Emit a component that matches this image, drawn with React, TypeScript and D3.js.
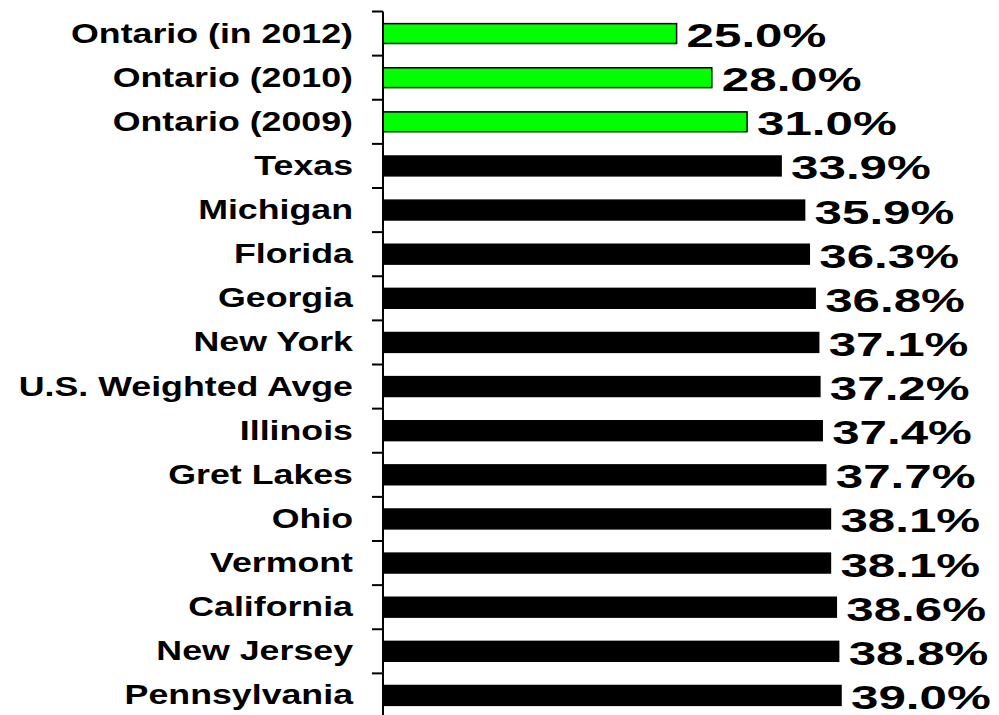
import React, { useRef, useEffect } from "react";
import * as d3 from "d3";

const categories = [
  "Ontario (in 2012)",
  "Ontario (2010)",
  "Ontario (2009)",
  "Texas",
  "Michigan",
  "Florida",
  "Georgia",
  "New York",
  "U.S. Weighted Avge",
  "Illinois",
  "Gret Lakes",
  "Ohio",
  "Vermont",
  "California",
  "New Jersey",
  "Pennsylvania",
];

const values = [25.0, 28.0, 31.0, 33.9, 35.9, 36.3, 36.8, 37.1, 37.2, 37.4, 37.7, 38.1, 38.1, 38.6, 38.8, 39.0];

const ontarioRows = ["Ontario (in 2012)", "Ontario (2010)", "Ontario (2009)"];

const App: React.FC = () => {
  const chartRef = useRef<SVGSVGElement | null>(null);

  useEffect(() => {
    if (!chartRef.current) return;
    const svg = d3.select(chartRef.current);
    svg.selectAll("*").remove();

    const width = 999;
    const height = 715;
    const axisX = 383;

    svg.attr("width", width).attr("height", height);

    const x = d3.scaleLinear().domain([0, 39]).range([axisX, 841]);

    const y = d3
      .scaleBand<string>()
      .domain(categories)
      .range([11.5, 717.5])
      .paddingInner(0.55)
      .paddingOuter(0.275);

    const data = categories.map((c, i) => ({ category: c, value: values[i] }));

    // bars
    svg
      .append("g")
      .selectAll("rect")
      .data(data)
      .enter()
      .append("rect")
      .attr("x", axisX)
      .attr("y", (d) => y(d.category)!)
      .attr("width", (d) => x(d.value) - axisX)
      .attr("height", y.bandwidth())
      .attr("fill", (d) => (ontarioRows.includes(d.category) ? "#00ff00" : "#000"))
      .attr("stroke", "#000")
      .attr("stroke-width", 1.5);

    // axis line + ticks between categories
    const step = y.step();
    const r0 = y.range()[0];
    const g = svg.append("g");
    g.append("line")
      .attr("x1", axisX)
      .attr("x2", axisX)
      .attr("y1", r0)
      .attr("y2", height)
      .attr("stroke", "#000")
      .attr("stroke-width", 2);
    g.selectAll("line.tick")
      .data(d3.range(categories.length + 1))
      .enter()
      .append("line")
      .attr("class", "tick")
      .attr("x1", axisX - 11)
      .attr("x2", axisX)
      .attr("y1", (i) => r0 + i * step)
      .attr("y2", (i) => r0 + i * step)
      .attr("stroke", "#000")
      .attr("stroke-width", 2);

    // category labels
    svg
      .append("g")
      .selectAll("text")
      .data(data)
      .enter()
      .append("text")
      .attr(
        "transform",
        (d) => `translate(353,${y(d.category)! + y.bandwidth() / 2 + 9}) scale(1.3,1)`
      )
      .attr("text-anchor", "end")
      .attr("font-family", "'Liberation Sans', Arial, sans-serif")
      .attr("font-weight", "bold")
      .attr("font-size", 27.5)
      .attr("fill", "#000")
      .text((d) => d.category);

    // value labels
    svg
      .append("g")
      .selectAll("text")
      .data(data)
      .enter()
      .append("text")
      .attr(
        "transform",
        (d) => `translate(${x(d.value) + 10},${y(d.category)! + y.bandwidth() / 2 + 13.5}) scale(1.45,1)`
      )
      .attr("text-anchor", "start")
      .attr("font-family", "'Liberation Sans', Arial, sans-serif")
      .attr("font-weight", "bold")
      .attr("font-size", 34)
      .attr("fill", "#000")
      .text((d) => `${d.value.toFixed(1)}%`);
  }, []);

  return (
    <svg
      ref={chartRef}
      style={{ position: "absolute", left: 0, top: 0, display: "block", background: "#fff" }}
    />
  );
};

export default App;
